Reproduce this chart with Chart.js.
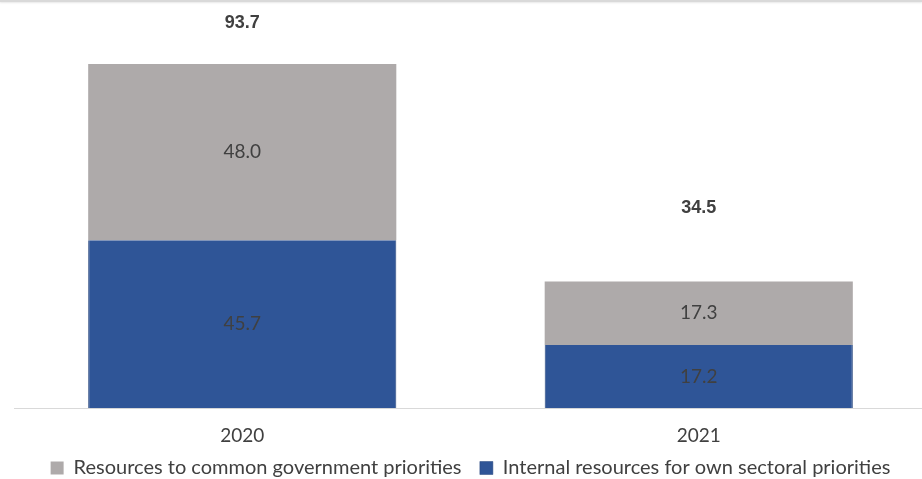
<!DOCTYPE html>
<html lang="en">
<head>
    <meta charset="UTF-8">
    <title>Resources</title>
    <script src="https://cdn.jsdelivr.net/npm/chart.js"></script>
    <style>
        html, body { margin: 0; padding: 0; background: #fff; overflow: hidden; }
        #topo { position: absolute; left: 0; top: 0; width: 922px; height: 2px; background: #d9d9d9; box-shadow: 0 1px 2px #e6e6e6; z-index: 2; }
        #caixa { position: relative; width: 927px; height: 479px; }
    </style>
</head>
<body>
    <div id="topo"></div>
    <div id="caixa">
        <canvas id="grafico"></canvas>
    </div>

<script>
    var anos = ['2020', '2021'];
    var internos = [45.7, 17.2];
    var comuns = [48.0, 17.3];
    var nomeInternos = 'Internal resources for own sectoral priorities';
    var nomeComuns = 'Resources to common government priorities';

    var fonteTexto = "Lato, 'Liberation Sans', sans-serif";

    // rotulos dentro das barras e total acima
    var rotulos = {
        id: 'rotulos',
        afterDatasetsDraw(chart) {
            var ctx = chart.ctx;
            ctx.save();
            ctx.textAlign = 'center';
            ctx.textBaseline = 'middle';
            ctx.fillStyle = '#404040';
            ctx.font = "19px " + fonteTexto;
            chart.data.datasets.forEach(function (ds, i) {
                chart.getDatasetMeta(i).data.forEach(function (bar, j) {
                    ctx.fillText(ds.data[j].toFixed(1), bar.x, (bar.y + bar.base) / 2);
                });
            });
            // totais
            var folga = [41, 73];
            ctx.font = "bold 18px 'Liberation Sans Narrow', 'Liberation Sans', sans-serif";
            var topo = chart.getDatasetMeta(1).data;
            anos.forEach(function (a, j) {
                var total = internos[j] + comuns[j];
                ctx.fillText(total.toFixed(1), topo[j].x, topo[j].y - folga[j]);
            });
            ctx.restore();
        }
    };

    var ctx1 = document.getElementById('grafico');

    new Chart(ctx1, {
        type: 'bar',
        data: {
            labels: anos,
            datasets: [{
                label: nomeInternos,
                data: internos,
                backgroundColor: '#2f5597',
                borderColor: '#24447c',
                borderWidth: { left: 1, right: 1, top: 0, bottom: 0 },
                borderSkipped: false,
                barPercentage: 0.675,
                categoryPercentage: 1
            }, {
                label: nomeComuns,
                data: comuns,
                backgroundColor: '#aeaaaa',
                borderWidth: 0,
                barPercentage: 0.675,
                categoryPercentage: 1
            }]
        },
        options: {
            responsive: true,
            maintainAspectRatio: false,
            animation: false,
            layout: { padding: { left: 14, right: 0, top: 4, bottom: -9 } },
            scales: {
                x: {
                    stacked: true,
                    grid: { display: false },
                    border: { display: true, color: '#d9d9d9', width: 1 },
                    ticks: { color: '#404040', font: { size: 19, family: fonteTexto }, padding: 8 }
                },
                y: {
                    stacked: true,
                    display: false,
                    min: 0,
                    max: 110
                }
            },
            plugins: {
                legend: {
                    position: 'bottom',
                    reverse: true,
                    labels: {
                        color: '#404040',
                        font: { size: 20, family: fonteTexto },
                        boxWidth: 13,
                        boxHeight: 13,
                        padding: 3,
                        generateLabels: function (chart) {
                            var itens = Chart.defaults.plugins.legend.labels.generateLabels(chart);
                            // espaco entre os itens da legenda
                            itens.forEach(function (it) {
                                if (it.datasetIndex == 1) it.text = it.text + '   ';
                            });
                            return itens;
                        }
                    }
                },
                tooltip: { enabled: false }
            }
        },
        plugins: [rotulos]
    });
</script>
</body>
</html>
